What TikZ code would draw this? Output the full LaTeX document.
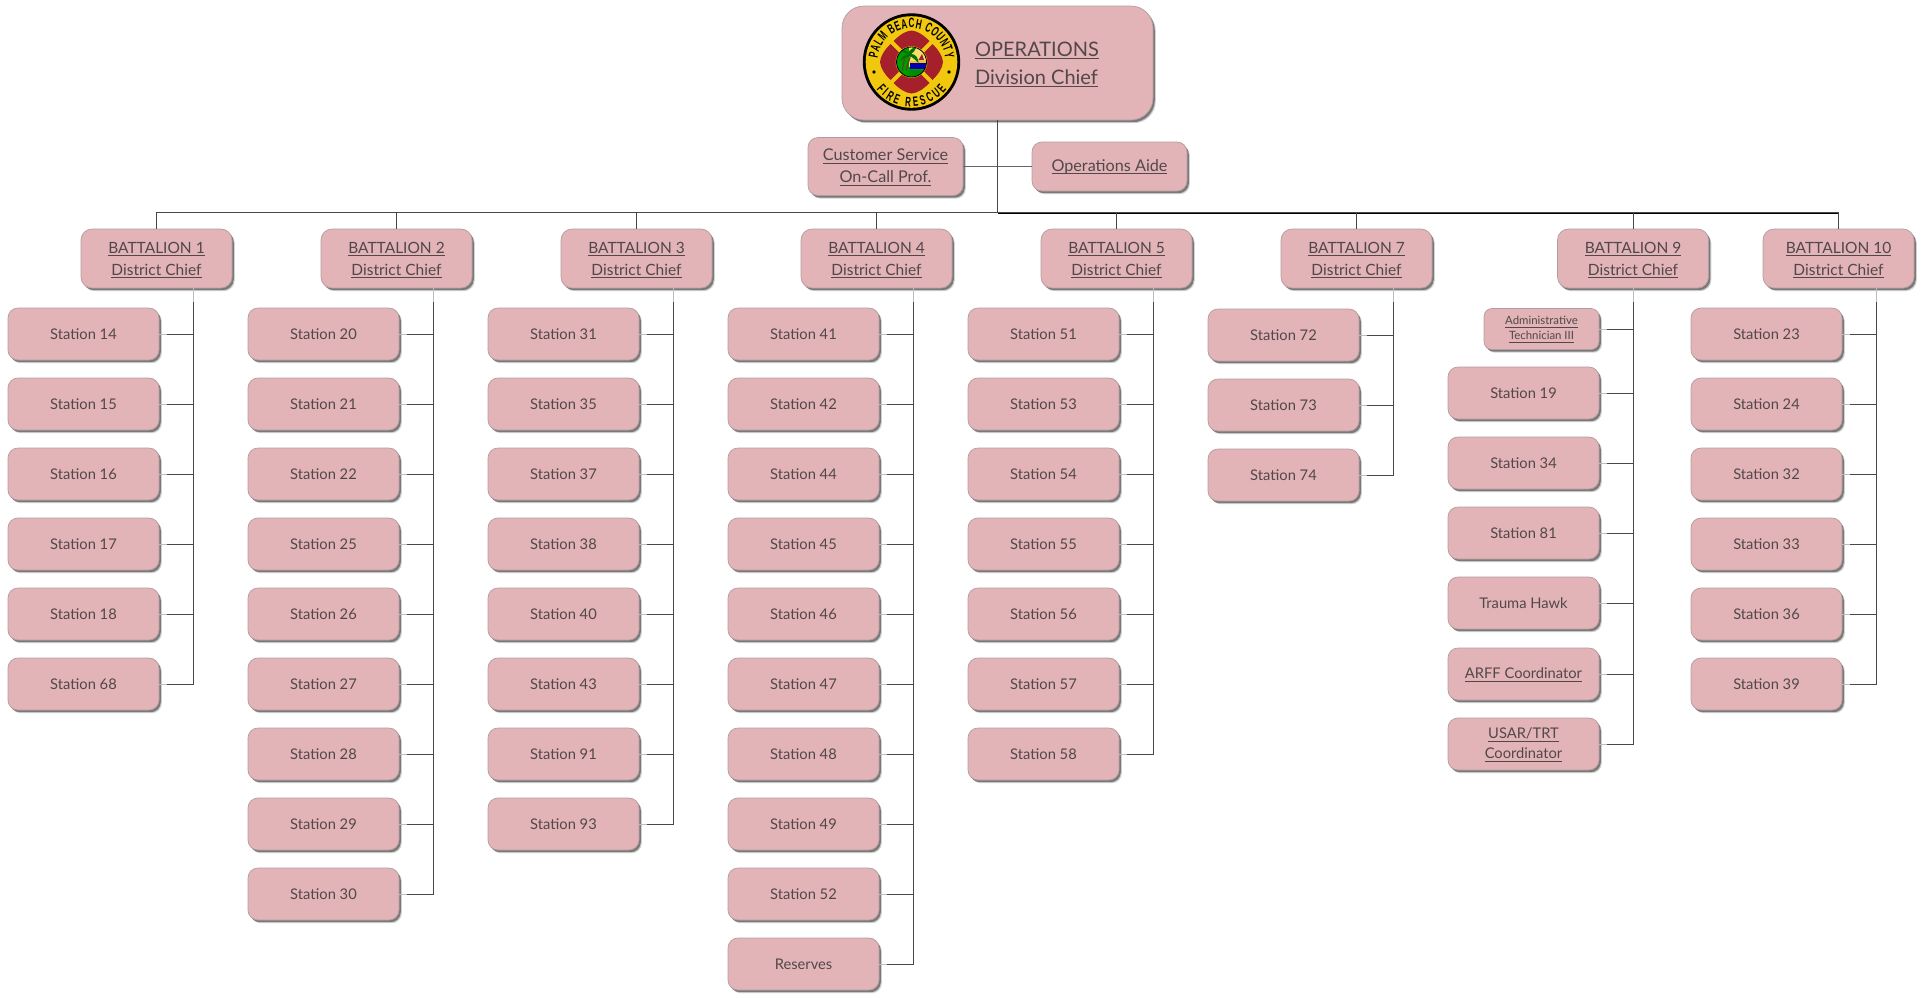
\documentclass[tikz,border=0pt]{standalone}
\usepackage{fontspec}
\setmainfont{Lato}
\setsansfont{Liberation Sans}
\newfontfamily\logofont[FakeStretch=0.6]{Liberation Sans}
\usetikzlibrary{shadows,calc,decorations.text}
\definecolor{boxfill}{HTML}{E2B4B7}
\definecolor{boxedge}{HTML}{B39C9E}
\definecolor{ink}{HTML}{524749}
\definecolor{linkdark}{HTML}{484848}
\definecolor{linkgray}{HTML}{BDBDBD}
\definecolor{logored}{HTML}{A5202B}
\definecolor{logoyellow}{HTML}{F2C80F}
\newcommand\lowered[2][0.4pt]{\raisebox{-#1}[\height][\depth]{#2}}
\newcommand\myul[1]{\setbox0\hbox{#1}\leavevmode\rlap{\copy0}\rule[-2.6pt]{\wd0}{0.6pt}}
\tikzset{
  softbox/.style={draw=boxedge,line width=0.7pt,fill=boxfill,text=ink,inner sep=0pt,align=center,
    drop shadow={shadow xshift=2.8pt,shadow yshift=-3.2pt,fill=black,opacity=.18},
    drop shadow={shadow xshift=1.8pt,shadow yshift=-2.2pt,fill=black,opacity=.42}},
  station/.style={softbox,minimum width=151pt,minimum height=52pt,rounded corners=10pt,
    font=\fontsize{14.7}{20}\selectfont},
  battalion/.style={softbox,minimum width=151pt,minimum height=59pt,rounded corners=11pt,
    font=\fontsize{15.5}{22}\selectfont},
  staff/.style={softbox,minimum width=155pt,rounded corners=10pt,font=\fontsize{16.2}{22}\selectfont},
  topbox/.style={softbox,minimum width=311pt,minimum height=114pt,rounded corners=22pt},
  conn/.style={draw=linkdark,line width=1pt},
  busright/.style={draw=black,line width=1.7pt},
  sidelink/.style={draw=black!60,line width=1.2pt},
  stub/.style={draw=linkgray,line width=1pt},
  logotext/.style={decorate,decoration={text along path,text color=black,text align={fit to path}}}
}
\newcommand\batt[3]{\node[battalion] (#1) at (#2,258.5) {\lowered[1.4pt]{\myul{BATTALION #3}}\\\lowered[1.4pt]{\myul{District Chief}}};}
\newcommand\stationcol[5]{%
  \foreach \t [count=\i] in {#5} {
    \node[station] (#1s\i) at (#2,{#4+70*(\i-1)}) {\lowered{\t}};
    \draw[conn] (#1s\i.east) -| (#3);
    \draw[stub] (#1s\i.east) -- ++(8,0);
  }%
}
\begin{document}
\begin{tikzpicture}[x=1pt,y=-1pt]
\useasboundingbox (0,0) rectangle (1925,997);
% top
\node[topbox] (top) at (997.5,63) {};
\node[text=ink,inner sep=0pt,align=left,font=\fontsize{20}{28}\selectfont] (toptext) at (1037,64.5)
  {\myul{OPERATIONS}\\\myul{Division Chief}};
\node[staff,minimum height=58pt] (cust) at (885.5,166.5) {\lowered{\myul{Customer Service}}\\\lowered{\myul{On-Call Prof.}}};
\node[staff,minimum height=49pt] (aide) at (1109.5,166.5) {\lowered{\myul{Operations Aide}}};
% logo
\begin{scope}[shift={(911.5,62)},x=1pt,y=1pt]
  \fill[black] (0,0) circle (48.7);
  \fill[logoyellow] (0,0) circle (45.8);
  \foreach \r in {0,90,180,270}{
    \fill[logored,rotate=\r] (-18,21) .. controls (-12,27) and (-6,31) .. (0,31.5)
       .. controls (6,31) and (12,27) .. (18,21) -- (5,8) -- (-5,8) -- cycle;
  }
  \fill[logoyellow] (0,0) circle (15.8);
  \begin{scope}
    \clip (0,0) circle (15);
    \fill[logoyellow!60!white] (-15,-15) rectangle (15,15);
    \fill[green!60!black] (-15,-15) rectangle (15,-5);
    \fill[green!60!black] (-15,-5) -- (-15,15) -- (-3,15) -- (-3,-5) -- cycle;
    \fill[blue!70!black] (-2,-7) rectangle (15,-1);
    \fill[logoyellow] (-2,-1) rectangle (15,1.5);
    \fill[green!55!black] (-2,-7) .. controls (4,-9) and (10,-9) .. (15,-7) -- (15,-15) -- (-2,-15) -- cycle;
    \fill[logored] (7,2) -- (10.5,8) -- (12.5,2) -- cycle;
    \draw[brown!50!black,line width=1.2pt] (-5,-8) .. controls (-4,-2) and (-2,2) .. (-1,7);
    \draw[brown!50!black,line width=1pt] (-9,-8) .. controls (-8.5,-3) and (-7.5,0) .. (-7,3);
    \fill[green!45!black] (-1,7) .. controls (-7,9) and (-9,5) .. (-11,1) .. controls (-7,4) and (-4,5) .. (-1,6)
       .. controls (2,3) and (5,2) .. (7,-1) .. controls (7,4) and (4,8) .. (0,8)
       .. controls (2,10) and (4,12) .. (5,15) .. controls (0,14) and (-3,11) .. (-3,9)
       .. controls (-5,11) and (-9,13) .. (-12,12) .. controls (-8,10) and (-5,8) .. (-1,7) -- cycle;
  \end{scope}
  \draw[black,line width=0.8pt] (0,0) circle (15);
  \fill[black] (-37.5,-10) circle (1.8);
  \fill[black] (37.5,-10) circle (1.8);
  \path[logotext,decoration={text={|\logofont\bfseries\fontsize{13.5}{13.5}\selectfont|PALM BEACH COUNTY}}]
    (0,0) ++(174:34) arc[start angle=174,end angle=6,radius=34];
  \path[logotext,decoration={text={|\logofont\bfseries\fontsize{13.5}{13.5}\selectfont|FIRE RESCUE}}]
    (0,0) ++(218:44.5) arc[start angle=218,end angle=322,radius=44.5];
\end{scope}
% battalions
\batt{b1}{156.5}{1}
\batt{b2}{396.5}{2}
\batt{b3}{636.5}{3}
\batt{b4}{876.5}{4}
\batt{b5}{1116.5}{5}
\batt{b7}{1356.5}{7}
\batt{b9}{1633}{9}
\batt{b10}{1838.5}{10}
% spines start on each battalion's lower edge
\foreach \b/\d in {b1/37,b2/37,b3/37,b4/37,b5/37,b7/37,b9/0,b10/38}{
  \coordinate (\b spine) at ($(\b.south)+(\d,0)$);
}
% stations
\stationcol{b1}{83.5}{b1spine}{334}{Station 14,Station 15,Station 16,Station 17,Station 18,Station 68}
\stationcol{b2}{323.5}{b2spine}{334}{Station 20,Station 21,Station 22,Station 25,Station 26,Station 27,Station 28,Station 29,Station 30}
\stationcol{b3}{563.5}{b3spine}{334}{Station 31,Station 35,Station 37,Station 38,Station 40,Station 43,Station 91,Station 93}
\stationcol{b4}{803.5}{b4spine}{334}{Station 41,Station 42,Station 44,Station 45,Station 46,Station 47,Station 48,Station 49,Station 52,Reserves}
\stationcol{b5}{1043.5}{b5spine}{334}{Station 51,Station 53,Station 54,Station 55,Station 56,Station 57,Station 58}
\stationcol{b7}{1283.5}{b7spine}{335}{Station 72,Station 73,Station 74}
\stationcol{b10}{1766.5}{b10spine}{334}{Station 23,Station 24,Station 32,Station 33,Station 36,Station 39}
% battalion 9 column
\node[softbox,minimum width=115pt,minimum height=41pt,rounded corners=8pt,font=\fontsize{11.4}{15}\selectfont] (adm) at (1541.5,329)
  {\lowered{\myul{Administrative}}\\\lowered{\myul{Technician III}}};
\node[station] (s19) at (1523.5,393) {\lowered{Station 19}};
\node[station] (s34) at (1523.5,463) {\lowered{Station 34}};
\node[station] (s81) at (1523.5,533) {\lowered{Station 81}};
\node[station] (hawk) at (1523.5,603) {\lowered{Trauma Hawk}};
\node[station] (arff) at (1523.5,674) {\lowered{\myul{ARFF Coordinator}}};
\node[station] (usar) at (1523.5,744) {\lowered{\myul{USAR/TRT}}\\\lowered{\myul{Coordinator}}};
\foreach \n in {adm,s19,s34,s81,hawk,arff,usar}{
  \draw[conn] (\n.east) -| (b9spine);
  \draw[stub] (\n.east) -- ++(8,0);
}
% upper structure
\draw[sidelink] (cust.east) -- (aide.west);
\coordinate (busjoin) at ($(top.south)+(0,92.5)$);
\draw[busright] (busjoin) -- (busjoin -| b10.north);
\foreach \b in {b1,b2,b3,b4,b5,b7,b9,b10}{
  \draw[conn] (top.south) -- (busjoin) -| (\b.north);
  \draw[stub] (\b spine) -- ++(0,14);
}
\end{tikzpicture}
\end{document}
